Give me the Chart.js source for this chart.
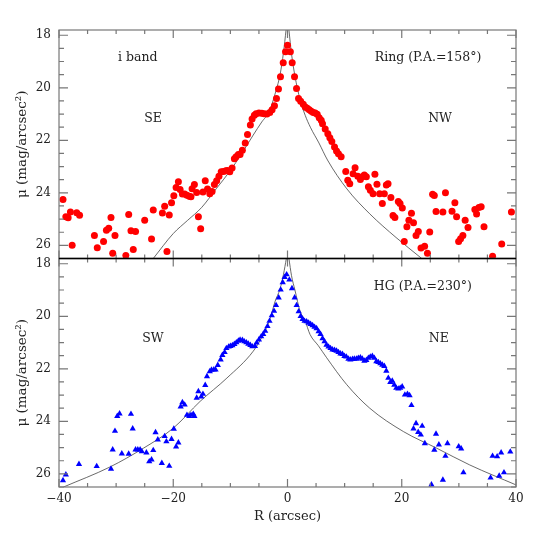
<!DOCTYPE html>
<html>
<head>
<meta charset="utf-8">
<script src="https://cdn.jsdelivr.net/npm/chart.js@4"></script>
<style>
html,body{margin:0;padding:0;background:#fff;}
</style>
</head>
<body>
<canvas id="profilo" width="545" height="545"></canvas>
<script>

// tick labels
let rTicks=[-40,-20,0,20,40];
let muTicks=[18,20,22,24,26];

// Ring, P.A.=158 (i band)
let ringR=[-39.3,-38.8,-38.4,-38.0,-37.7,-36.9,-36.4,-33.8,-33.3,-32.2,-31.7,-31.3,-30.9,-30.6,-30.2,-28.3,-27.8,-27.4,-27.0,-26.6,
-25.0,-23.8,-23.5,-21.9,-21.5,-21.1,-20.7,-20.3,-19.9,-19.5,-19.1,-18.8,-18.4,-18.0,-17.6,-17.2,-16.9,-16.7,-16.3,-15.9,
-15.6,-15.2,-14.8,-14.4,-14.0,-13.6,-13.2,-12.8,-12.4,-12.0,-11.6,-11.2,-10.8,-10.5,-10.1,-9.7,-9.3,-9.0,-8.6,-8.3,
-7.9,-7.4,-7.0,-6.5,-6.2,-5.8,-5.5,-5.0,-4.5,-4.1,-3.6,-3.1,-2.7,-2.28,-1.93,-1.58,-1.23,-0.75,-0.35,0,
0.5,0.82,1.23,1.58,1.93,2.3,2.76,3.11,3.46,3.81,4.16,4.51,4.85,5.2,5.55,5.9,6.13,6.6,7.06,7.41,
7.76,8.23,8.58,8.92,9.39,10.2,10.55,10.9,11.48,11.83,12.3,12.76,13.1,13.45,13.8,14.16,14.5,14.97,15.3,15.66,
16.13,16.6,16.95,17.3,17.6,18.1,18.47,18.8,19.4,19.7,20.1,20.44,20.9,21.25,21.7,22.06,22.5,22.9,23.37,24.0,
24.5,24.9,25.4,25.7,26.0,27.2,27.65,28.8,29.3,29.6,29.96,30.3,30.7,31.1,31.6,32.8,33.1,33.5,33.9,34.4,
35.9,37.5,39.2];
let ringMu=[24.25,24.91,24.95,24.73,26.0,24.76,24.85,25.62,26.09,25.85,25.42,25.35,24.94,26.3,25.62,26.39,24.82,25.44,26.16,25.47,
25.04,25.76,24.65,24.77,24.51,26.23,24.84,24.38,24.11,23.8,23.58,23.87,24.04,24.04,24.09,24.13,24.15,23.84,23.68,23.99,
24.91,25.37,23.97,23.54,23.85,24.03,23.95,23.68,23.54,23.37,23.2,23.19,23.16,23.15,23.2,23.05,22.7,22.63,22.54,22.54,
22.38,22.1,21.78,21.42,21.19,21.05,20.99,20.96,20.97,20.99,21.0,20.94,20.84,20.68,20.41,20.05,19.58,19.05,18.63,18.38,
18.63,19.05,19.58,20.03,20.41,20.51,20.63,20.73,20.78,20.84,20.89,20.94,20.96,21.01,21.14,21.24,21.37,21.57,21.75,21.9,
22.05,22.25,22.41,22.51,22.63,23.19,23.52,23.65,23.27,23.04,23.37,23.49,23.39,23.32,23.39,23.77,23.9,24.03,23.29,23.67,
24.03,24.41,24.03,23.7,23.65,24.18,24.86,24.94,24.33,24.41,24.58,25.85,25.29,25.04,24.78,25.14,25.62,25.47,26.1,26.03,
26.3,25.49,24.05,24.1,24.71,24.73,24.0,24.7,24.38,24.91,25.85,25.75,25.62,25.04,25.32,24.63,24.81,24.56,24.53,25.29,
26.41,25.95,24.73];

// HG, P.A.=230
let hgR=[-39.3,-38.8,-36.5,-33.4,-30.9,-30.6,-30.2,-29.8,-29.4,-29.0,-27.8,-27.4,-27.1,-26.6,-26.2,-25.8,-25.5,-24.7,-24.2,-23.8,
-23.5,-23.1,-22.7,-22.0,-21.5,-21.2,-20.7,-20.3,-19.9,-19.5,-19.1,-18.7,-18.4,-18.0,-17.6,-17.2,-16.9,-16.5,-16.3,-15.9,
-15.6,-15.1,-14.8,-14.4,-14.1,-13.6,-13.3,-12.9,-12.6,-12.2,-11.7,-11.4,-11.0,-10.7,-10.3,-10.0,-9.65,-9.3,-8.95,-8.6,
-8.3,-7.9,-7.56,-7.2,-6.86,-6.5,-6.16,-5.7,-5.4,-5.0,-4.6,-4.25,-3.9,-3.5,-3.15,-2.75,-2.35,-2.0,-1.54,-1.19,
-0.84,-0.5,-0.15,0.32,0.78,1.25,1.6,1.95,2.3,2.64,2.99,3.34,3.69,4.04,4.39,4.73,5.09,5.44,5.78,6.13,
6.48,6.83,7.18,7.53,7.88,8.23,8.58,8.92,9.27,9.62,9.97,10.3,10.67,11.0,11.37,11.7,12.07,12.4,12.76,13.1,
13.46,13.8,14.16,14.5,14.85,15.2,15.55,15.9,16.25,16.6,16.95,17.3,17.65,18.0,18.34,18.7,19.04,19.4,19.73,20.08,
20.55,21.0,21.37,21.7,22.06,22.5,22.88,23.34,23.58,24.04,25.2,25.7,26.0,26.5,27.2,27.65,28.0,29.97,30.4,30.8,
35.55,35.9,36.7,37.06,37.4,37.9,39.0];
let hgMu=[26.25,26.03,25.63,25.71,25.81,25.08,24.37,23.8,23.71,25.23,25.24,23.72,24.28,25.08,25.08,25.08,25.15,25.19,25.53,25.46,
25.1,24.42,24.7,25.59,24.57,24.77,25.7,24.68,24.29,24.97,24.81,23.44,23.28,23.37,23.76,23.8,23.76,23.72,23.8,23.11,
22.86,23.06,22.96,22.62,22.29,22.1,22.04,22.03,22.03,21.86,21.65,21.48,21.37,21.22,21.16,21.14,21.11,21.06,21.0,20.94,
20.9,20.91,20.96,21.0,21.05,21.1,21.15,21.14,21.01,20.89,20.77,20.68,20.56,20.38,20.18,19.97,19.8,19.58,19.29,18.99,
18.71,18.51,18.41,18.61,18.94,19.29,19.58,19.82,20.0,20.11,20.18,20.2,20.25,20.3,20.35,20.41,20.46,20.58,20.68,20.84,
20.96,21.09,21.16,21.22,21.27,21.29,21.32,21.37,21.42,21.44,21.52,21.54,21.62,21.65,21.63,21.62,21.62,21.59,21.57,21.62,
21.7,21.67,21.59,21.54,21.52,21.59,21.72,21.75,21.8,21.85,21.9,22.08,22.35,22.51,22.46,22.61,22.73,22.76,22.73,22.68,
22.99,22.96,23.01,23.39,24.28,24.08,24.41,24.51,24.18,24.84,26.41,25.09,24.48,24.89,26.23,25.32,24.84,24.96,25.04,25.95,
26.15,25.32,25.34,26.08,25.19,25.95,25.16];

// model profiles (black lines)
let ringSeR=[-23.5,-20,-17.5,-15,-12.5,-10,-8,-6,-4.5,-3.2,-2,-1.3,-0.7,-0.25];
let ringSeMu=[26.5,25.55,25.05,24.55,23.85,23.15,22.5,21.8,21.3,20.9,20.1,19.5,18.65,17.8];
let ringNwR=[0.25,0.7,1.3,2.2,3.1,4,5.5,7,10.4,14.4,19,23.5];
let ringNwMu=[17.8,18.7,19.55,20.45,21.05,21.5,22.1,22.75,23.85,24.8,25.7,26.5];
let hgSwR=[-39.2,-31.1,-25.2,-20,-15.3,-10.6,-6,-4.5,-3.06,-2.2,-1.3,-0.7,-0.2];
let hgSwMu=[26.5,25.74,25.02,24.26,23.24,22.35,21.33,20.8,20.1,19.45,18.95,18.4,17.8];
let hgNeR=[0.25,0.7,1.3,2.19,3.06,3.94,5.4,6.86,10.36,14.4,20.3,26.1,31.9,40];
let hgNeMu=[17.8,18.45,19.0,19.8,20.16,20.69,21.12,21.58,22.6,23.5,24.39,25.02,25.66,26.42];

let punti=(xs,ys)=>xs.map((x,i)=>({x:x,y:ys[i]}));

Chart.defaults.font.family="'DejaVu Serif', serif";
Chart.defaults.color="#222";

function asseMu(peso){
return {
type:"linear",
position:"left",
stack:"pannelli",
stackWeight:peso,
reverse:true,
min:17.8,
max:26.5,
afterBuildTicks:s=>{s.ticks=muTicks.map(v=>({value:v}));},
afterFit:s=>{s.width=59;},
grid:{display:false,drawTicks:false},
border:{display:false},
ticks:{font:{size:12},padding:8},
title:{display:true,text:"\u03bc (mag/arcsec\u00b2)",font:{size:13.5},padding:{top:14,bottom:0}}
};
}

let note=[
["yTop",-26.2,18.85,"i band"],
["yTop",-23.55,21.17,"SE"],
["yTop",24.6,18.85,"Ring (P.A.=158\u00b0)"],
["yTop",26.7,21.17,"NW"],
["yLow",23.7,18.88,"HG (P.A.=230\u00b0)"],
["yLow",26.5,20.87,"NE"],
["yLow",-23.55,20.87,"SW"]
];

// clip every dataset to its own panel
let clipPannello={
id:"clipPannello",
beforeDatasetDraw(chart,args){
let ctx=chart.ctx,xs=chart.scales.x,ys=args.meta.yScale;
ctx.save();
ctx.beginPath();
ctx.rect(xs.left,ys.top,xs.right-xs.left,ys.bottom-ys.top);
ctx.clip();
},
afterDatasetDraw(chart){
chart.ctx.restore();
}
};

// frames, inward ticks, labels
let cornice={
id:"cornice",
afterDraw(chart){
let ctx=chart.ctx,xs=chart.scales.x;
["yTop","yLow"].forEach(id=>{
let ys=chart.scales[id];
let L=xs.left,R=xs.right,T=ys.top,B=ys.bottom;
ctx.save();
ctx.strokeStyle="#777";
ctx.lineWidth=1.2;
ctx.strokeRect(L,T,R-L,B-T);
ctx.beginPath();
for(let r=-40;r<=40;r+=5){
let p=xs.getPixelForValue(r);
let n=(r%20===0)?8:4;
ctx.moveTo(p,B);ctx.lineTo(p,B-n);
ctx.moveTo(p,T);ctx.lineTo(p,T+n);
}
for(let m=18;m<=26.5;m+=0.5){
let p=ys.getPixelForValue(m);
let n=(m%2===0)?9:5;
ctx.moveTo(L,p);ctx.lineTo(L+n,p);
ctx.moveTo(R,p);ctx.lineTo(R-n,p);
}
ctx.stroke();
ctx.restore();
});
let d=chart.scales.yTop.bottom;
ctx.save();
ctx.strokeStyle="#000";
ctx.lineWidth=1.5;
ctx.beginPath();
ctx.moveTo(xs.left,d);ctx.lineTo(xs.right,d);
ctx.stroke();
ctx.fillStyle="#222";
ctx.font="12.5px 'DejaVu Serif', serif";
ctx.textAlign="center";
ctx.textBaseline="middle";
note.forEach(n=>{
let ys=chart.scales[n[0]];
ctx.fillText(n[3],xs.getPixelForValue(n[1]),ys.getPixelForValue(n[2]));
});
ctx.restore();
}
};

new Chart(
document.getElementById("profilo"),
{
type:"scatter",
data:{
datasets:[
{data:punti(ringR,ringMu),yAxisID:"yTop",backgroundColor:"#ff0000",borderWidth:0,pointRadius:3.5,pointStyle:"circle"},
{data:punti(hgR,hgMu),yAxisID:"yLow",backgroundColor:"#0000ff",borderWidth:0,pointRadius:3.6,pointStyle:"triangle"},
{data:punti(ringSeR,ringSeMu),yAxisID:"yTop",showLine:true,pointRadius:0,borderColor:"#444",borderWidth:0.8,cubicInterpolationMode:"monotone"},
{data:punti(ringNwR,ringNwMu),yAxisID:"yTop",showLine:true,pointRadius:0,borderColor:"#444",borderWidth:0.8,cubicInterpolationMode:"monotone"},
{data:punti(hgSwR,hgSwMu),yAxisID:"yLow",showLine:true,pointRadius:0,borderColor:"#444",borderWidth:0.8,cubicInterpolationMode:"monotone"},
{data:punti(hgNeR,hgNeMu),yAxisID:"yLow",showLine:true,pointRadius:0,borderColor:"#444",borderWidth:0.8,cubicInterpolationMode:"monotone"}
]
},
options:{
responsive:false,
animation:false,
layout:{padding:{top:30,right:29,left:0,bottom:0}},
plugins:{legend:{display:false},tooltip:{enabled:false}},
scales:{
x:{
type:"linear",
position:"bottom",
min:-40,
max:40,
afterBuildTicks:s=>{s.ticks=rTicks.map(v=>({value:v}));},
afterFit:s=>{s.height=58;},
grid:{display:false,drawTicks:false},
border:{display:false},
ticks:{font:{size:12},padding:5,maxRotation:0,callback:v=>v<0?"\u2212"+Math.abs(v):""+v},
title:{display:true,text:"R (arcsec)",font:{size:13},padding:{top:0,bottom:21}}
},
yLow:asseMu(1),
yTop:asseMu(1)
}
},
plugins:[clipPannello,cornice]
}
);

</script>
</body>
</html>
